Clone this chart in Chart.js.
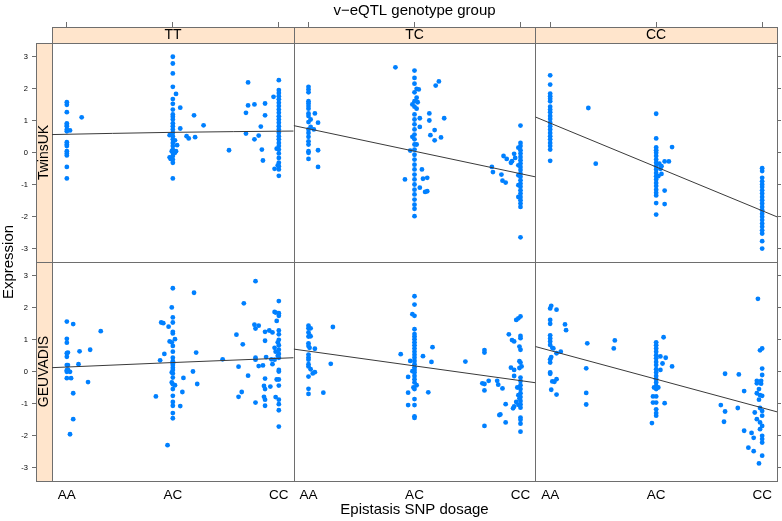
<!DOCTYPE html>
<html>
<head>
<meta charset="utf-8">
<script src="https://cdn.jsdelivr.net/npm/chart.js@4/dist/chart.umd.min.js"></script>
<style>
html,body{margin:0;padding:0;background:#fff;}
#wrap{width:782px;height:521px;position:relative;}
</style>
</head>
<body>
<div id="wrap"><canvas id="c"></canvas></div>
<script>
// ---- categories and tick labels ----
const dosageLabels = ['AA', 'AC', 'CC'];           // x: 1, 2, 3
const genotypeGroups = ['TT', 'TC', 'CC'];          // columns
const cohorts = ['TwinsUK', 'GEUVADIS'];            // rows
const yTicks = [-3, -2, -1, 0, 1, 2, 3];
const xTicks = [1, 2, 3];
const titleText = 'v\u2212eQTL genotype group';
const xTitle = 'Epistasis SNP dosage';
const yTitle = 'Expression';

// ---- points: [dosage (jittered), expression] ----
const twinsUK_TT = [[1,1.57],[1,1.49],[1,1.26],[1,0.91],[1,0.86],[1,0.82],[1,0.72],[1.03,0.69],[1,0.66],[1,0.32],[1,0.25],[1,0.20],[1,0.04],[1,-0.03],[1,-0.09],[1,-0.45],[1,-0.81],[1.14,1.10],
 [2,2.99],[2,2.78],[2,2.47],[2,2.05],[2.03,1.83],[2,1.67],[2,1.52],[2,1.34],[2,1.19],[2,1.12],[2,1.03],[2,0.91],[2,0.82],[2,0.72],[2,0.62],[2,0.51],[2,0.41],[2,0.30],[2,0.20],[2,0.09],[2,-0.01],[2,-0.11],[2,-0.22],[2,-0.32],[1.97,0.54],[1.98,-0.17],[1.99,0.04],[2.02,-0.01],[2.03,0.04],[2.04,0.23],[2.02,0.38],[1.97,-0.15],[1.98,-0.2],[2,-0.81],[2.07,1.40],[2.07,0.75],[2.13,0.51],[2.15,0.44],[2.21,0.48],[2.2,1.16],[2.29,0.85],[2.53,0.07],
 [2.71,2.19],[3,2.26],[3,1.95],[3,1.86],[3,1.76],[3,1.66],[3,1.55],[3,1.45],[3,1.34],[3,1.24],[3,1.13],[3,1.03],[3,0.93],[3,0.82],[3,0.72],[3,0.62],[3,0.51],[3,0.41],[3,0.30],[3,0.20],[3,0.09],[3,-0.03],[3,-0.17],[3,-0.32],[3,-0.43],[3,-0.53],[2.98,0.12],[2.99,-0.40],[2.96,-0.51],[3,-0.73],[2.95,1.74],[2.69,1.24],[2.71,1.47],[2.77,1.50],[2.87,1.53],[2.87,1.16],[2.83,0.81],[2.69,0.59],[2.81,0.53],[2.77,0.41],[2.84,0.09],[2.85,-0.25]];

const twinsUK_TC = [[1,2.05],[1,1.97],[1,1.88],[1,1.60],[1,1.53],[1,1.45],[1,1.37],[1,1.22],[1,1.14],[1.02,1.03],[1,0.95],[1.02,0.80],[1,0.72],[1.06,1.22],[1.09,0.93],[1.05,0.72],[1,0.61],[1,0.49],[1,0.35],[1,0.25],[1,0.04],[1,-0.01],[1,-0.20],[1.09,0.07],[1.09,-0.45],
 [1.82,2.66],[2,2.56],[2,2.33],[2,2.15],[2.02,1.99],[2.04,1.97],[2,1.88],[2.02,1.71],[2,1.60],[2.03,1.57],[1.98,1.50],[2,1.43],[2.02,1.37],[2,1.19],[2,1.03],[2,0.88],[2,0.72],[2,0.56],[2,0.41],[2,0.25],[2,0.09],[2,-0.07],[2,-0.22],[2,-0.38],[2,-0.53],[2,-0.69],[2,-0.84],[2,-1.0],[2,-1.16],[2,-1.31],[2,-1.47],[2,-1.63],[1.98,0.49],[1.96,0.06],[2.02,0.25],[2.05,0.80],[2.05,1.07],[2,-1.76],[2,-1.99],[1.91,-0.84],[2.07,-0.53],[2.12,-0.79],[2.08,-0.82],[2.05,-1.10],[2.10,-1.23],[2.12,-1.21],[2.14,1.22],[2.14,1.0],[2.15,0.54],[2.19,0.70],[2.19,0.38],[2.25,0.47],[2.20,2.09],[2.23,2.22],[2.28,1.07],
 [2.73,-0.45],[2.74,-0.61],[2.82,-0.69],[2.83,-0.88],[2.86,-0.94],[2.84,-0.11],[2.87,-0.20],[2.91,-0.32],[2.92,-0.27],[2.94,-0.04],[2.95,-0.17],[2.98,0.15],[3,0.84],[3,0.30],[3,0.20],[3,0.07],[3,-0.03],[3,-0.14],[3,-0.24],[3,-0.34],[3,-0.45],[3,-0.55],[3,-0.66],[3,-0.76],[3,-0.87],[3,-0.97],[3,-1.07],[3,-1.18],[3,-1.28],[3,-1.39],[3,-1.49],[3,-1.59],[3,-1.70],[3,-2.65],[2.98,-0.40],[2.98,-0.71],[2.98,-1.02],[2.98,-1.39]];

const twinsUK_CC = [[1,2.41],[1,2.12],[1,1.84],[1,1.76],[1,1.68],[1,1.60],[1,1.43],[1,1.34],[1,1.26],[1,1.14],[1,1.05],[1,0.93],[1,0.82],[1,0.72],[1,0.61],[1,0.51],[1,0.41],[1,0.30],[1,0.20],[1,0.09],[1,-0.26],[1.36,1.39],[1.43,-0.35],
 [2,1.21],[2,0.44],[2,0.16],[2,0.07],[2,-0.01],[2,-0.11],[2,-0.22],[2,-0.32],[2,-0.43],[2,-0.53],[2,-0.64],[2,-0.74],[2,-0.84],[2,-0.95],[2,-1.05],[2,-1.16],[2,-1.26],[2,-1.34],[2,-1.58],[2,-1.94],[2.03,-0.35],[2.05,-0.43],[2.04,-0.51],[2.08,-0.28],[2.12,-0.28],[2.15,0.17],[2.02,-0.74],[2.05,-0.67],[2.08,-1.19],[2.08,-1.61],
 [3,-0.49],[3,-0.58],[3,-0.79],[3,-0.90],[3,-1.0],[3,-1.08],[3,-1.18],[3,-1.28],[3,-1.39],[3,-1.49],[3,-1.59],[3,-1.70],[3,-1.80],[3,-1.91],[3,-2.01],[3,-2.11],[3,-2.22],[3,-2.32],[3,-2.43],[3,-2.53],[3,-2.77],[3,-3.0]];

const geuvadis_TT = [[1,1.56],[1.06,1.48],[1,1.02],[1,0.90],[1.01,0.59],[1,0.57],[1,0.46],[1,0.20],[1.01,0.20],[1.01,0.06],[1,0.04],[1,-0.01],[1.03,-0.01],[1,-0.21],[1.04,-0.21],[1.06,-0.68],[1.06,-1.49],[1.03,-1.96],[1.11,0.23],[1.12,0.63],[1.22,0.68],[1.20,-0.33],[1.32,1.26],
 [2,2.60],[1.99,2.0],[2,1.69],[2,1.53],[1.89,1.53],[1.91,1.51],[1.96,1.40],[2,1.24],[2,1.19],[2.02,1.01],[1.97,0.94],[1.99,0.91],[2,0.80],[2,0.62],[1.92,0.55],[1.88,0.35],[2,0.43],[2,0.32],[2,0.26],[2,0.20],[2,0.12],[2,0.05],[1.99,-0.03],[2,-0.06],[2,-0.19],[1.99,-0.34],[2,-0.40],[2.02,-0.43],[2,-0.55],[2.09,-0.64],[1.84,-0.78],[2,-0.76],[2,-0.95],[2,-1.07],[2.07,-1.08],[2,-1.30],[2,-1.46],[1.95,-2.30],[2.20,2.46],[2.22,0.59],[2.19,0.0],[2.10,-0.20],[2.23,-0.39],
 [2.78,2.82],[2.67,2.13],[3,2.20],[2.96,1.86],[2.97,1.84],[3,1.82],[3,1.74],[2.98,1.58],[2.77,1.46],[2.81,1.43],[2.78,1.34],[2.60,1.15],[2.66,0.85],[2.87,1.24],[2.91,1.28],[2.94,1.22],[3,1.28],[3,1.16],[2.87,0.96],[3,0.99],[2.99,0.91],[3,0.82],[2.96,0.74],[3,0.68],[2.97,0.62],[3,0.55],[2.99,0.49],[3,0.43],[2.96,0.37],[2.93,0.38],[2.88,0.45],[2.78,0.43],[2.78,0.37],[2.47,0.38],[2.62,0.15],[2.81,0.17],[2.85,0.19],[2.94,0.23],[3,0.05],[3,0.0],[2.71,-0.13],[2.87,-0.22],[2.98,-0.25],[3,-0.25],[2.86,-0.45],[2.92,-0.47],[3,-0.44],[2.87,-0.55],[2.65,-0.64],[2.62,-0.79],[2.86,-0.79],[2.87,-0.88],[2.97,-0.80],[3,-0.88],[2.78,-0.97],[2.87,-1.07],[3,-1.02],[3,-1.21],[3,-1.72]];

const geuvadis_TC = [[1,1.43],[1.02,1.35],[1,1.35],[1,1.22],[1.01,1.13],[1.02,1.10],[1,1.09],[1,0.88],[1,0.80],[1.01,0.74],[1.06,0.71],[1,0.53],[1,0.44],[1,0.37],[1,0.23],[1,0.16],[1.02,0.07],[1.06,-0.02],[1.04,-0.06],[1,-0.16],[1,-0.54],[1,-0.70],[1.14,-0.66],[1.23,1.39],[1.21,0.24],
 [2,2.35],[2,2.09],[1.98,1.79],[2,1.74],[2,1.32],[2,1.17],[2,1.09],[2,1.01],[2,0.91],[2,0.82],[2,0.72],[2,0.62],[2,0.52],[2,0.43],[2,0.33],[2,0.23],[2,0.13],[2,0.05],[2,-0.03],[2,-0.14],[2,-0.24],[2,-0.34],[1.98,0.01],[2.02,-0.43],[1.99,-0.50],[2,-0.55],[1.87,0.54],[1.96,0.33],[1.94,-0.17],[1.94,-0.66],[2,-0.86],[1.94,-1.05],[2,-1.05],[2,-1.40],[2,-1.45],[2.08,0.48],[2.16,0.30],[2.17,0.76],[2.13,-0.65],[2.48,0.31],
 [2.66,0.67],[2.66,0.59],[2.64,-0.37],[2.66,-0.39],[2.66,-0.59],[2.70,-0.29],[2.78,-0.29],[2.79,-0.41],[2.83,-0.53],[2.66,-1.70],[2.80,-1.36],[2.81,-1.34],[2.86,-1.59],[2.86,-1.02],[2.89,1.16],[2.92,0.98],[2.94,0.94],[2.96,1.61],[2.98,1.66],[3,1.72],[3,1.11],[3,1.04],[2.99,0.78],[3,0.68],[2.99,0.32],[3,0.28],[2.99,0.11],[3.01,0.16],[2.91,0.12],[2.94,0.05],[2.94,-0.14],[3,-0.19],[3,-0.30],[3,-0.43],[3,-0.55],[3,-0.68],[3,-0.80],[3,-0.92],[3,-1.03],[3,-1.13],[2.97,-0.50],[2.98,-0.74],[2.96,-0.95],[2.94,-1.09],[2.93,-1.15],[2.99,-0.84],[2.98,-1.04],[3,-1.44],[3,-1.51],[3,-1.63],[3,-1.88]];

const geuvadis_CC = [[1.01,2.05],[1,1.97],[1.06,1.93],[1,1.61],[1,1.49],[1.14,1.47],[1.15,1.29],[1,1.13],[1,1.03],[1,0.94],[1,0.83],[1.02,0.74],[1.03,0.72],[1.06,0.57],[1.1,0.62],[1.01,0.45],[1,0.38],[1,0.28],[1,-0.03],[1,-0.07],[1.02,-0.31],[1.04,-0.32],[1.06,-0.24],[1.01,-0.57],[1.06,-0.72],[1.35,0.88],[1.34,0.10],[1.34,-0.67],[1.34,-1.03],[1.61,0.97],[1.60,0.72],
 [2.07,1.07],[2,0.91],[2,0.82],[2,0.72],[2,0.62],[2,0.51],[2,0.41],[2,0.30],[2,0.20],[2,0.07],[2,-0.03],[2,-0.14],[2,-0.24],[2,-0.34],[2,-0.45],[2,-0.55],[2.04,0.47],[2.09,0.43],[2.06,0.25],[2.04,0.05],[2.15,0.16],[1.97,-0.78],[2,-0.78],[1.97,-0.97],[2,-0.97],[2.08,-0.99],[2,-1.18],[2,-1.30],[2,-1.38],[1.96,-1.61],[1.98,-0.50],[2.02,-0.50],
 [2.96,2.27],[2.98,0.66],[3,0.72],[3,0.09],[2.65,-0.07],[2.78,-0.09],[2.83,-0.61],[2.95,-0.29],[2.95,-0.37],[2.97,-0.55],[2.95,-0.68],[2.98,-0.74],[3,-0.76],[2.97,-0.88],[2.99,-0.29],[2.99,-0.38],[3,-0.11],[2.61,-1.05],[2.65,-1.25],[2.64,-1.57],[2.77,-1.14],[2.98,-1.14],[3,-1.23],[2.93,-1.28],[3,-1.38],[2.95,-1.49],[2.98,-1.59],[3,-1.70],[2.98,-1.80],[2.83,-1.85],[2.90,-1.92],[2.92,-2.07],[3,-2.01],[3,-2.11],[3,-2.22],[2.87,-2.38],[2.92,-2.49],[3,-2.63],[2.97,-2.87]];

// ---- fitted trend lines: expression at dosage fitX ----
const fitX = [0.86, 2, 3.14];
const fitTwinsUK_TT = [0.56, 0.63, 0.67];
const fitTwinsUK_TC = [0.84, 0.04, -0.76];
const fitTwinsUK_CC = [1.11, -0.45, -2.01];
const fitGeuvadis_TT = [0.12, 0.28, 0.43];
const fitGeuvadis_TC = [0.70, 0.175, -0.35];
const fitGeuvadis_CC = [0.78, -0.24, -1.26];

// ---- styling ----
const FONT = '"Liberation Sans", Arial, Helvetica, sans-serif';
const POINT_COLOR = '#0080ff';
const LINE_COLOR = '#3a3a3a';
const STRIP_BG = '#ffe5cc';
const BORDER = '#6e6e6e';
const STRIP = 16;
const X_MIN = 0.86, X_MAX = 3.14, Y_MIN = -3.42, Y_MAX = 3.42;

const panels = [
  {pts: twinsUK_TT, fit: fitTwinsUK_TT, x: 'x0', y: 'yT'},
  {pts: twinsUK_TC, fit: fitTwinsUK_TC, x: 'x1', y: 'yT'},
  {pts: twinsUK_CC, fit: fitTwinsUK_CC, x: 'x2', y: 'yT'},
  {pts: geuvadis_TT, fit: fitGeuvadis_TT, x: 'x0', y: 'yG'},
  {pts: geuvadis_TC, fit: fitGeuvadis_TC, x: 'x1', y: 'yG'},
  {pts: geuvadis_CC, fit: fitGeuvadis_CC, x: 'x2', y: 'yG'}
];

const datasets = [];
panels.forEach(p => {
  datasets.push({
    type: 'line', order: 0, xAxisID: p.x, yAxisID: p.y,
    data: fitX.map((x, i) => ({x: x, y: p.fit[i]})),
    borderColor: LINE_COLOR, borderWidth: 1, pointRadius: 0, fill: false, tension: 0.4,
    cubicInterpolationMode: 'monotone'
  });
  datasets.push({
    type: 'scatter', order: 1, xAxisID: p.x, yAxisID: p.y,
    data: p.pts.map(d => ({x: d[0], y: d[1]})),
    backgroundColor: POINT_COLOR, borderWidth: 0, pointRadius: 2.4, pointHoverRadius: 2.4
  });
});

function noPad(s) { s.paddingLeft = 0; s.paddingRight = 0; s.paddingTop = 0; s.paddingBottom = 0; }

function yAxis(pos, showLabels) {
  return {
    type: 'linear', position: pos, stack: pos, stackWeight: 1,
    min: Y_MIN, max: Y_MAX,
    afterBuildTicks: s => { s.ticks = yTicks.map(v => ({value: v})); },
    afterFit: s => { s.width = pos === 'left' ? 52 : 5; noPad(s); },
    border: {display: false},
    grid: {drawOnChartArea: false, drawTicks: true, tickLength: pos === 'left' ? 20 : 4, color: BORDER, tickColor: BORDER, lineWidth: 1},
    ticks: {display: showLabels, padding: 4, color: '#000', font: {family: FONT, size: 7.5}}
  };
}
function xAxis(pos, idx) {
  const ax = {
    type: 'linear', position: pos, stack: pos, stackWeight: 1,
    min: X_MIN, max: X_MAX,
    afterBuildTicks: s => { s.ticks = xTicks.map(v => ({value: v})); },
    border: {display: false}
  };
  if (pos === 'bottom') {
    ax.afterFit = s => { s.height = 40; noPad(s); };
    ax.grid = {display: false, drawTicks: false, drawOnChartArea: false};
    ax.ticks = {display: true, padding: 6, autoSkip: false, maxRotation: 0, color: '#000',
      font: {family: FONT, size: 13.5},
      callback: (v, i) => dosageLabels[i]};
    if (idx === 1) {
      ax.title = {display: true, text: xTitle, color: '#000', font: {family: FONT, size: 15}, padding: {top: 0, bottom: 2}};
    }
  } else {
    ax.afterFit = s => { s.height = 21; noPad(s); };
    ax.grid = {drawOnChartArea: false, drawTicks: true, tickLength: 21, color: BORDER, tickColor: BORDER};
    ax.ticks = {display: false};
  }
  return ax;
}

const latticePlugin = {
  id: 'lattice',
  beforeDatasetsDraw(chart) {
    const ctx = chart.ctx, a = chart.chartArea;
    const cols = ['x0', 'x1', 'x2'].map(id => chart.scales[id]);
    const rows = ['yT', 'yG'].map(id => chart.scales[id]);
    const L = Math.round(a.left), R = Math.round(a.right), T = Math.round(a.top), B = Math.round(a.bottom);
    ctx.save();
    ctx.fillStyle = STRIP_BG;
    ctx.fillRect(L, T - STRIP, R - L, STRIP);
    ctx.fillRect(L - STRIP, T, STRIP, B - T);
    ctx.strokeStyle = BORDER;
    ctx.lineWidth = 1;
    ctx.fillStyle = '#000';
    // top strips
    ctx.font = '14px ' + FONT;
    ctx.textAlign = 'center';
    ctx.textBaseline = 'middle';
    cols.forEach((sc, i) => {
      const l = Math.round(sc.left), r = Math.round(sc.right);
      ctx.strokeRect(l + 0.5, T - STRIP + 0.5, r - l, STRIP);
      ctx.fillText(genotypeGroups[i], (l + r) / 2, T - STRIP / 2 + 0.5);
    });
    // left strips
    rows.forEach((sc, i) => {
      const t = Math.round(sc.top), b = Math.round(sc.bottom);
      ctx.strokeRect(L - STRIP + 0.5, t + 0.5, STRIP, b - t);
      ctx.save();
      ctx.translate(L - STRIP / 2 + 0.5, (t + b) / 2);
      ctx.rotate(-Math.PI / 2);
      ctx.fillText(cohorts[i], 0, 0);
      ctx.restore();
    });
    // panels
    rows.forEach(rs => cols.forEach(cs => {
      const l = Math.round(cs.left), r = Math.round(cs.right), t = Math.round(rs.top), b = Math.round(rs.bottom);
      ctx.strokeRect(l + 0.5, t + 0.5, r - l, b - t);
    }));
    // y title
    ctx.font = '15px ' + FONT;
    ctx.save();
    ctx.translate(9, (T + B) / 2);
    ctx.rotate(-Math.PI / 2);
    ctx.fillText(yTitle, 0, 0);
    ctx.restore();
    ctx.restore();
  }
};

new Chart(document.getElementById('c'), {
  type: 'scatter',
  data: {datasets: datasets},
  plugins: [latticePlugin],
  options: {
    responsive: true, maintainAspectRatio: false, animation: false,
    layout: {padding: 0},
    plugins: {
      legend: {display: false},
      tooltip: {enabled: false},
      title: {display: true, text: titleText, fullSize: false, color: '#000',
        font: {family: FONT, size: 15, weight: 'normal', lineHeight: 1.2},
        padding: {top: 1.5, bottom: 2.5}}
    },
    scales: {
      yG: yAxis('left', true),
      yT: yAxis('left', true),
      yrT: yAxis('right', false),
      yrG: yAxis('right', false),
      x0: xAxis('bottom', 0),
      x1: xAxis('bottom', 1),
      x2: xAxis('bottom', 2),
      xt2: xAxis('top', 2),
      xt1: xAxis('top', 1),
      xt0: xAxis('top', 0)
    }
  }
});
</script>
</body>
</html>
